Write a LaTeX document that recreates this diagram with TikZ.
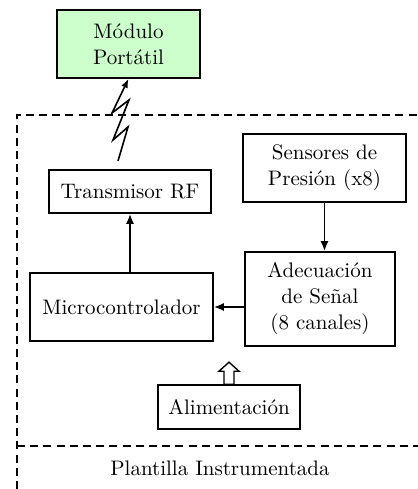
\documentclass[tikz,border=0pt]{standalone}
\usepackage{tikz}
\usetikzlibrary{positioning}
\usetikzlibrary{arrows.meta}

\begin{document}
\begin{tikzpicture}[x=0.5pt,y=-0.5pt]
\tikzset{
  block/.style={rectangle,draw=black,fill=white,line width=0.8pt,text centered,align=center,inner sep=0pt,font=\fontsize{10.5}{13}\selectfont},
  portable/.style={block,fill=green!20},
  arrow/.style={-{Latex[length=5pt,width=4pt]},line width=0.9pt,draw=black},
  bolt/.style={-{Latex[length=4.5pt,width=3.5pt]},line width=0.8pt,draw=black},
  hollow/.style={line width=0.7pt,draw=black,fill=white},
  border/.style={line width=0.8pt,dash pattern=on 4pt off 2.6pt},
}
\useasboundingbox (0,0) rectangle (418,489);
% dashed frame of the insole
\draw[border] (17,489) -- (17,115) -- (418,115);
\draw[border] (17,446) -- (418,446);
\node[font=\fontsize{10.5}{13}\selectfont] (plantilla) at (220,468) {Plantilla Instrumentada};
%
\node[portable,minimum width=71.5pt,minimum height=34pt] (modulo) at (128.5,44) {M\'odulo\\Port\'atil};
\node[block,minimum width=81pt,minimum height=21.5pt] (tx) at (130,191.5) {Transmisor RF};
\node[block,minimum width=81.5pt,minimum height=34pt] (sens) at (324.5,168) {Sensores de\\Presi\'on (x8)};
\node[block,minimum width=75pt,minimum height=47pt] (adec) at (320,299) {Adecuaci\'on\\de Se\~nal\\(8 canales)};
\node[block,minimum width=91.5pt,minimum height=34pt] (micro) at (121.5,307) {Microcontrolador};
\node[block,minimum width=71pt,minimum height=22pt] (alim) at (229,407) {Alimentaci\'on};
%
\coordinate (rf) at (118,161);
\draw[bolt] (rf) -- (128,127) -- (113,140) -- (129,100) -- (112,113) -- (modulo.south);
\path[arrow] (tx.south |- micro.north) -- (tx.south);
\path[arrow] (sens.south) -- (sens.south |- adec.north);
\path[arrow] (adec.west |- micro.east) -- (micro.east);
\draw[hollow] (alim.north) ++(-2.5pt,0) -- ++(0,6.5pt) -- ++(-2.5pt,0) -- ++(5pt,4.5pt)
  -- ++(5pt,-4.5pt) -- ++(-2.5pt,0) -- ++(0,-6.5pt) -- cycle;
\end{tikzpicture}
\end{document}
